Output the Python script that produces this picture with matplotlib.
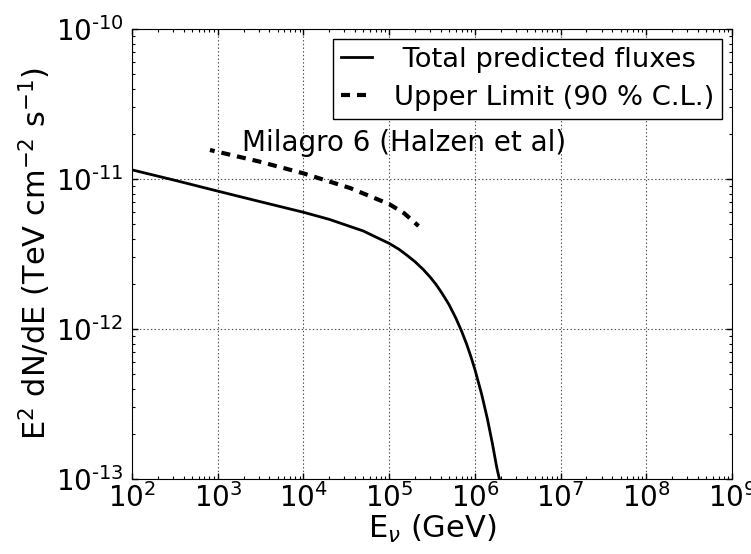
import numpy as np
import matplotlib

matplotlib.use("Agg", force=True)
import matplotlib.pyplot as plt

# total predicted flux (GeV, TeV cm^-2 s^-1)
total_e = [1e2, 3.16e2, 1e3, 3.16e3, 1e4, 2e4, 3e4, 5e4, 7e4, 1e5, 1.3e5, 1.6e5, 2e5,
           2.5e5, 3e5, 3.5e5, 4e5, 4.5e5, 5e5, 6e5, 7e5, 8e5, 9e5, 1e6, 1.2e6, 1.4e6,
           1.6e6, 1.8e6, 1.93e6]
total_flux = [1.15e-11, 9.8e-12, 8.3e-12, 7.05e-12, 6.0e-12, 5.38e-12, 4.97e-12, 4.5e-12,
              4.1e-12, 3.72e-12, 3.4e-12, 3.11e-12, 2.81e-12, 2.49e-12, 2.22e-12,
              1.99e-12, 1.78e-12, 1.6e-12, 1.45e-12, 1.18e-12, 9.66e-13, 7.93e-13,
              6.52e-13, 5.37e-13, 3.66e-13, 2.51e-13, 1.72e-13, 1.19e-13, 1.0e-13]

# upper limit (90 % C.L.)
ul_e = [8.1e2, 3e3, 1e4, 3.5e4, 1e5, 1.5e5, 2.2e5]
ul_flux = [1.56e-11, 1.31e-11, 1.09e-11, 8.7e-12, 6.8e-12, 5.9e-12, 4.86e-12]

xticks = [1e2, 1e3, 1e4, 1e5, 1e6, 1e7, 1e8, 1e9]
xticklabels = ["$10^{%d}$" % k for k in range(2, 10)]
yticks = [1e-13, 1e-12, 1e-11, 1e-10]
yticklabels = ["$10^{\\text{%d}}$" % k for k in range(-13, -9)]

plt.rcParams["lines.scale_dashes"] = False

fig = plt.figure(figsize=(7.51, 5.54), dpi=100)
ax = fig.add_axes([0.1758, 0.1354, 0.799, 0.8123])

ax.plot(total_e, total_flux, "k-", lw=2, label=" Total predicted fluxes")
ax.plot(ul_e, ul_flux, color="k", lw=3, ls=(3, (6.5, 5)), label="Upper Limit (90 % C.L.)")

ax.set_xscale("log")
ax.set_yscale("log")
ax.set_xlim(1e2, 1e9)
ax.set_ylim(1e-13, 1e-10)
ax.set_xticks(xticks)
ax.set_xticklabels(xticklabels)
ax.set_yticks(yticks)
ax.set_yticklabels(yticklabels)

ax.tick_params(which="both", direction="in", top=True, right=True, labelsize=20)
ax.tick_params(which="major", length=4, width=1)
ax.tick_params(which="minor", length=2, width=0.8)
ax.tick_params(axis="x", pad=3)
ax.tick_params(axis="y", pad=6)
ax.grid(True, which="major", ls=":", color="k", lw=0.8, alpha=0.7)

ax.text(1.92e3, 1.75e-11, "Milagro 6 (Halzen et al)", fontsize=20, va="center")

ax.set_xlabel("E$_{\\nu}$ (GeV)", fontsize=22, labelpad=0)
ax.set_ylabel("E$^{2}$ dN/dE (TeV cm$^{-2}$ s$^{-1}$)", fontsize=22, labelpad=2)

leg = ax.legend(loc="upper right", fontsize=19.7, fancybox=False, framealpha=1,
                edgecolor="k", handlelength=1.13, handletextpad=0.8, borderpad=0.3,
                labelspacing=0.44, borderaxespad=0.36)
leg.get_frame().set_linewidth(1)
leg.get_lines()[1].set_linestyle((0, (6.5, 5)))

fig.savefig("out.png", dpi=100)
